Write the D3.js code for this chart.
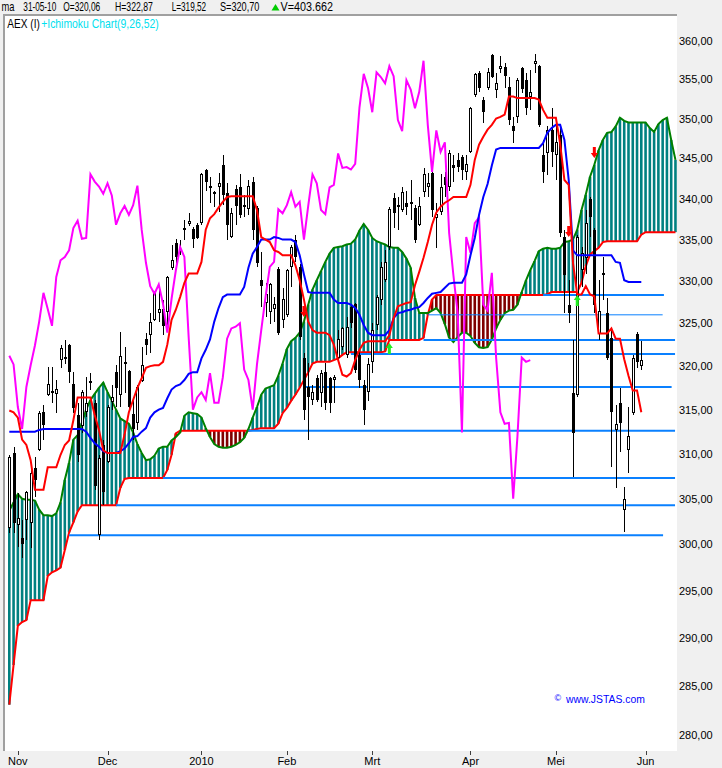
<!DOCTYPE html>
<html><head><meta charset="utf-8">
<script src="https://cdn.jsdelivr.net/npm/d3@7"></script>
<style>
html,body{margin:0;padding:0;background:#f0f0f0;}
svg{display:block;font-family:"Liberation Sans",Arial,sans-serif;}
</style></head><body>
<svg id="c" width="722" height="768"></svg>
<script>
// ---- price data (AEX daily, 29-10-2009 .. 31-05-2010) ----
const opens = [301.8,310.1,302.1,300.7,302.7,302.3,308.4,310.4,314.7,316.7,317.0,316.8,320.7,320.8,322.5,317.9,314.4,313.1,314.7,318.0,
315.8,301.0,311.0,309.1,315.9,319.3,316.7,320.5,319.4,314.5,313.5,318.3,323.2,323.6,325.4,326.2,326.7,326.3,331.6,334.6,
333.5,336.2,336.9,336.3,336.8,337.0,343.5,341.6,340.8,341.4,344.2,340.7,335.3,341.2,341.4,339.0,338.7,342.0,338.9,330.1,
327.4,326.3,326.7,331.5,325.4,326.0,331.7,335.0,331.7,320.9,317.6,316.1,318.6,316.9,319.3,318.6,318.4,320.9,322.2,321.3,
326.9,327.3,321.3,317.8,317.0,320.5,324.8,327.8,330.1,334.1,340.1,339.0,338.6,339.5,339.3,338.9,336.8,340.8,341.4,343.2,
337.6,338.4,342.7,341.4,344.2,344.8,345.2,343.3,345.8,353.0,355.8,352.4,353.9,358.1,353.6,356.3,356.6,354.0,349.0,350.2,
356.4,354.9,352.7,357.0,356.7,345.4,345.6,348.5,345.4,347.9,335.3,327.2,316.9,316.7,331.3,332.8,340.0,336.2,323.8,330.8,
326.2,323.3,312.7,315.8,303.8,310.4,314.6,323.8,320.06];
const highs = [309.9,310.8,305.6,302.7,305.9,308.4,309.7,314.8,315.5,319.9,319.9,318.4,322.5,323.1,322.6,319.3,315.8,317.3,318.7,319.2,
316.1,309.9,311.6,315.5,317.8,320.1,324.0,322.2,319.5,316.1,317.8,322.2,323.9,326.2,328.7,329.1,327.8,330.6,334.4,335.1,
335.0,337.4,338.2,336.5,337.0,343.2,343.7,342.7,340.9,343.2,345.4,341.9,338.9,341.7,343.1,340.4,342.3,342.7,339.1,333.5,
329.8,329.8,328.1,331.7,329.2,331.5,334.4,335.5,332.0,321.5,320.4,317.8,319.0,319.5,320.4,318.8,319.0,324.2,324.6,325.7,
327.2,327.4,321.9,318.4,321.0,325.0,328.4,332.3,333.7,339.0,340.7,340.2,341.4,341.0,342.3,339.2,340.2,343.8,343.2,343.3,
339.5,343.0,343.3,346.0,345.4,345.7,345.4,345.4,351.5,355.8,356.1,352.7,356.5,358.3,355.8,358.0,357.1,355.3,350.2,355.2,
356.6,355.8,356.2,358.3,356.9,347.3,349.0,351.3,349.4,348.9,336.2,330.1,323.0,335.5,334.1,338.6,340.2,336.4,330.1,332.9,
328.0,324.5,315.5,317.5,306.3,315.3,321.3,324.0,322.87];
const lows = [301.2,301.2,299.7,298.5,300.5,299.6,305.2,310.3,311.6,316.6,315.8,314.6,319.8,320.2,318.0,314.6,309.1,312.4,314.2,317.3,
306.0,300.5,304.3,309.0,315.0,315.3,315.3,316.9,315.0,311.6,312.7,318.2,321.3,321.5,325.3,325.1,323.6,324.0,331.3,331.7,
333.1,335.0,336.7,334.0,335.1,336.8,341.0,339.5,339.0,338.4,339.2,335.0,335.2,336.8,337.6,337.7,338.0,335.0,331.7,326.9,
325.7,324.9,325.1,323.6,324.5,325.7,329.3,332.3,323.0,313.8,311.6,315.5,315.9,315.3,315.0,314.6,315.8,320.4,321.9,320.9,
324.5,319.2,317.5,313.3,316.0,319.2,324.2,327.2,329.9,333.7,336.4,336.2,338.4,338.0,337.4,334.6,336.7,340.2,340.2,337.7,
334.0,338.0,340.2,341.0,342.0,343.3,342.3,342.3,345.7,352.7,353.4,349.4,353.6,355.2,352.6,355.8,353.9,349.2,346.9,349.4,
353.3,350.4,351.1,355.8,348.9,341.9,342.9,343.9,342.3,335.3,326.2,325.0,307.4,316.5,329.3,330.9,335.3,326.2,323.0,327.8,
320.7,308.5,306.2,310.2,301.4,307.9,314.4,319.8,319.52];
const closes = [309.7,302.3,302.9,300.0,305.7,307.9,307.1,314.6,313.3,317.9,317.1,317.4,322.1,321.1,319.3,315.2,309.9,317.0,315.8,318.3,
306.4,309.5,305.7,315.3,316.5,317.5,321.2,320.2,315.3,312.8,317.6,320.1,322.4,325.2,328.6,326.7,324.7,330.5,332.5,332.9,
333.7,336.4,337.3,335.1,335.2,343.0,342.1,341.5,340.6,341.9,340.4,336.8,338.2,339.1,338.0,339.2,341.6,336.2,332.2,329.4,
328.5,329.6,327.3,323.9,327.9,331.3,334.1,332.9,323.4,315.0,316.4,317.0,316.1,319.2,315.8,315.8,318.7,323.2,324.4,324.6,
325.0,319.6,318.4,315.0,320.2,324.2,328.1,331.7,332.3,338.7,338.2,339.2,340.8,339.0,339.6,335.0,339.1,343.0,341.9,338.6,
338.1,341.4,341.7,345.6,343.8,343.9,343.6,344.3,351.4,355.7,353.9,350.8,355.9,355.3,354.5,356.7,355.4,349.8,348.4,354.9,
353.7,351.3,353.4,357.4,349.2,343.3,348.5,345.8,347.0,335.8,330.7,326.2,312.4,335.3,333.4,337.0,337.7,327.2,326.5,331.0,
321.0,314.7,313.4,313.5,305.0,312.0,321.0,320.5,320.70];

// ---- Ichimoku lines ----
const tenkan = [314.9,314.7,314.1,311.6,311.0,309.3,306.0,306.0,306.0,308.5,
308.5,308.5,309.9,311.0,311.5,313.8,316.4,316.4,316.4,316.4,
314.4,312.7,310.4,310.1,310.1,310.1,310.1,312.2,314.7,316.1,
317.5,318.6,319.8,320.0,320.1,320.1,320.5,322.5,325.4,326.6,
328.1,329.8,330.9,330.9,330.9,332.3,336.2,337.6,338.1,338.9,
339.6,340.2,340.3,340.3,340.3,340.3,340.3,340.3,338.6,335.3,
335.0,334.7,333.7,333.5,333.1,333.1,333.1,331.9,330.1,327.8,
325.2,324.2,323.9,323.9,323.9,323.6,322.5,320.7,319.0,318.8,
319.2,320.7,321.9,322.7,322.9,322.9,322.9,322.9,322.9,323.6,
325.6,327.0,327.2,327.4,327.5,329.5,331.1,332.8,334.7,336.8,
338.3,339.0,339.5,339.8,340.2,340.2,340.2,340.2,341.7,344.8,
346.7,347.7,348.6,349.2,350.0,350.2,350.5,352.8,352.8,352.6,
352.6,352.6,352.6,352.6,352.4,351.1,350.1,350.1,350.1,346.8,
342.3,341.7,332.2,328.4,328.4,329.4,328.4,328.2,323.8,323.8,
323.8,324.4,323.2,323.2,320.8,318.9,317.2,317.2,314.7];
const kijun = [312.5,312.5,312.5,312.5,312.5,312.5,312.5,312.7,312.8,312.8,
312.8,312.8,312.8,312.8,312.8,312.8,312.8,312.8,312.5,311.8,
311.2,310.8,310.3,310.1,310.1,310.1,310.3,310.6,311.2,311.9,
312.0,312.5,312.9,314.1,314.7,315.0,315.2,316.3,317.3,317.7,
317.9,318.4,319.1,319.3,319.3,320.9,321.9,323.1,325.2,326.8,
328.1,328.4,328.4,328.4,328.4,329.3,331.6,333.3,334.1,335.0,
335.0,335.0,335.3,335.2,335.0,335.0,335.0,334.7,333.1,330.8,
328.7,328.6,328.6,328.6,328.6,328.6,327.8,327.4,327.4,327.4,
327.2,326.8,326.0,324.8,323.9,323.6,323.6,323.6,323.6,324.2,
325.6,326.2,326.3,326.5,326.6,326.8,326.9,327.4,328.0,328.5,
328.6,328.7,329.2,329.7,329.8,329.8,329.8,330.8,333.1,335.2,
338.0,340.2,341.8,344.1,346.1,346.3,346.3,346.3,346.3,346.3,
346.3,346.3,346.3,346.3,346.3,346.9,348.2,348.8,349.2,349.2,
347.3,342.3,333.7,333.1,333.1,333.1,333.1,333.1,333.1,333.1,
333.1,333.1,332.3,332.2,330.1,329.9,329.9,329.9,329.9];
const senkouA = [303.7,304.6,305.5,305.0,304.9,304.9,304.8,303.8,303.2,303.2,
303.1,303.4,304.6,307.1,309.0,311.6,312.1,313.5,315.0,316.1,
316.8,317.5,318.1,317.0,316.0,315.0,314.0,313.7,313.4,312.4,
311.1,310.1,309.3,309.4,309.8,310.6,310.8,310.8,311.5,311.9,
312.4,314.3,314.7,314.6,314.5,314.1,312.9,311.9,311.1,310.8,
310.7,310.7,310.8,311.0,311.3,311.8,312.8,314.1,315.3,316.7,
317.4,317.6,317.8,318.9,320.3,322.0,322.9,323.3,323.9,325.2,
327.2,329.0,330.1,331.2,332.3,333.3,334.0,334.1,334.2,334.4,
334.5,335.0,336.1,336.9,336.2,335.2,334.8,334.6,334.4,334.1,
334.0,334.0,333.5,332.7,331.6,328.0,326.2,326.2,326.2,326.5,
326.8,326.2,324.9,323.3,322.8,323.4,323.9,323.9,323.5,322.7,
322.2,322.1,322.2,323.1,324.4,325.4,326.2,326.5,326.6,327.2,
328.7,330.1,331.3,332.4,333.6,333.9,334.0,333.9,333.9,334.0,
334.7,334.8,335.0,336.2,338.6,340.5,342.7,344.2,346.0,347.3,
348.2,348.3,349.0,350.1,349.7,349.5,349.5,349.5,349.5,349.5,
348.8,348.3,349.3,349.8,350.1,347.3,344.8];
const senkouB = [283.1,287.2,291.3,291.7,291.9,294.0,294.0,294.0,294.0,296.6,
297.0,297.2,297.5,299.4,301.3,302.4,303.6,304.3,304.3,304.3,
304.3,304.3,304.3,304.3,304.3,304.3,306.2,307.2,307.3,307.3,
307.3,307.3,307.3,307.3,307.3,307.3,307.3,308.2,309.9,312.3,
312.6,312.6,312.6,312.6,312.6,312.6,312.6,312.6,312.6,312.6,
312.6,312.6,312.6,312.6,312.6,312.6,312.6,312.7,312.8,312.9,
312.9,312.9,312.9,313.4,314.6,315.2,316.0,316.7,317.5,318.4,
319.3,320.3,320.5,320.5,320.5,320.5,320.7,320.9,321.3,321.6,
321.6,321.6,321.6,321.6,321.6,321.6,321.6,321.6,321.7,323.05,
323.05,323.05,323.05,323.05,323.05,323.05,323.05,323.3,326.0,327.8,
328.35,328.35,328.35,328.35,328.35,328.35,328.35,328.35,328.35,328.35,
328.35,328.35,328.35,328.35,328.35,328.35,328.35,328.35,328.35,328.35,
328.35,328.35,328.35,328.35,328.35,328.35,328.45,328.7,328.7,328.7,
328.7,328.7,328.7,328.7,329.8,331.8,333.2,333.6,334.0,334.7,
334.8,334.8,334.8,334.8,334.8,334.8,334.8,334.8,335.6,335.9,
335.9,335.9,335.9,335.9,335.9,335.9,335.9];
const chikouShift = 26; // lagging span = close plotted 26 bars back

// support / resistance levels (value, first bar, last bar)
const levelValues = [328.35,326.0,323.05,321.4,317.6,312.6,307.3,304.3,301.0];
const levelStart  = [125,98,97,80,69,56,36,25,14];
const levelEnd    = [153.3,153,155.9,155.9,155.1,155.9,155.9,155.9,153.1];
const levelThin   = [false,true,false,false,false,false,false,false,false];

// crossover signals
const sigIdx   = [69,89,131,133,137];
const sigPrice = [325.75,322.7,335.3,328.35,345.05];
const sigDir   = ["down","up","down","up","down"];

// axes
const yTicks = [280,285,290,295,300,305,310,315,320,325,330,335,340,345,350,355,360];
const monthLabels = ["Nov","Dec","2010","Feb","Mrt","Apr","Mei","Jun"];
const monthIdx = [2,23,45,65,85,108,128,149];

// header texts
const hdrTexts = ["ma","31-05-10","O=320,06","H=322,87","L=319,52","S=320,70","V=403.662"];

// ---- drawing ----
const svg = d3.select("#c");
svg.append("rect").attr("width",722).attr("height",768).attr("fill","#f0f0f0");
svg.append("rect").attr("x",5).attr("y",16).attr("width",672).attr("height",735).attr("fill","#ffffff");
svg.append("rect").attr("x",3).attr("y",14).attr("width",674).attr("height",2).attr("fill","#a0a0a0");
svg.append("rect").attr("x",3).attr("y",14).attr("width",2).attr("height",737).attr("fill","#a0a0a0");

svg.append("defs").append("clipPath").attr("id","clip")
  .append("rect").attr("x",5).attr("y",16).attr("width",672).attr("height",735);

const x = d3.scaleLinear().domain([0,148]).range([9.3,641.3]);
const y = d3.scaleLog().domain([280,360]).range([735.1,40.7]);

const g = svg.append("g").attr("clip-path","url(#clip)");

// cloud stripes
g.append("g").selectAll("line").data(d3.range(senkouA.length)).join("line")
  .attr("x1",i=>x(i)).attr("x2",i=>x(i))
  .attr("y1",i=>y(senkouA[i])).attr("y2",i=>y(senkouB[i]))
  .attr("stroke",i=>senkouA[i]>=senkouB[i]?"#008080":"#800000")
  .attr("stroke-width",2.6);

const line = d3.line().x((d,i)=>x(i)).y(d=>y(d));
g.append("path").attr("d",line(senkouB)).attr("fill","none").attr("stroke","#ff0000").attr("stroke-width",2);
g.append("path").attr("d",line(senkouA)).attr("fill","none").attr("stroke","#008000").attr("stroke-width",2);

// levels
g.append("g").selectAll("line").data(levelValues).join("line")
  .attr("x1",(d,k)=>x(levelStart[k])).attr("x2",(d,k)=>x(levelEnd[k]))
  .attr("y1",d=>y(d)).attr("y2",d=>y(d))
  .attr("stroke","#0a80ff").attr("stroke-width",(d,k)=>levelThin[k]?1:2);

// candles
const cg = g.append("g").attr("shape-rendering","crispEdges");
closes.forEach((c,i)=>{
  const o = opens[i], R = Math.round(x(i));
  const yh = Math.round(y(highs[i])), yl = Math.round(y(lows[i]));
  cg.append("rect").attr("x",R).attr("y",yh).attr("width",1).attr("height",Math.max(1,yl-yh)).attr("fill","#000");
  const t = Math.round(y(Math.max(o,c))), b = Math.round(y(Math.min(o,c)));
  const h = Math.max(2,b-t);
  cg.append("rect").attr("x",R-1).attr("y",t).attr("width",3).attr("height",h).attr("fill","#000");
  if (c >= o && h > 2) {
    cg.append("rect").attr("x",R).attr("y",t+1).attr("width",1).attr("height",h-2).attr("fill","#fff");
  }
});

// chikou, kijun, tenkan
const chikou = closes.slice(chikouShift);
g.append("path").attr("d",line(chikou)).attr("fill","none").attr("stroke","#ff00ff").attr("stroke-width",2);
g.append("path").attr("d",line(kijun)).attr("fill","none").attr("stroke","#0000ff").attr("stroke-width",2);
g.append("path").attr("d",line(tenkan)).attr("fill","none").attr("stroke","#ff0000").attr("stroke-width",2);

// signal arrows
sigIdx.forEach((i,k)=>{
  const cx = x(i), ty = y(sigPrice[k]);
  let p;
  if (sigDir[k]==="up") {
    p = `M${cx},${ty} L${cx+3.5},${ty+5} L${cx+1.5},${ty+5} L${cx+1.5},${ty+11} L${cx-1.5},${ty+11} L${cx-1.5},${ty+5} L${cx-3.5},${ty+5} Z`;
    g.append("path").attr("d",p).attr("fill","#22ee22");
  } else {
    p = `M${cx},${ty} L${cx+3.5},${ty-5} L${cx+1.5},${ty-5} L${cx+1.5},${ty-11} L${cx-1.5},${ty-11} L${cx-1.5},${ty-5} L${cx-3.5},${ty-5} Z`;
    g.append("path").attr("d",p).attr("fill","#ff0000");
  }
});

// y axis labels
const fmt = d3.format(".2f");
svg.append("g").selectAll("text").data(yTicks).join("text")
  .attr("x",679).attr("y",d=>y(d)+4)
  .attr("font-size",11).attr("fill","#000")
  .text(d=>fmt(d).replace(".",","));

// x axis
const xa = svg.append("g");
xa.selectAll("line").data(monthIdx).join("line")
  .attr("x1",d=>Math.round(x(d))+0.5).attr("x2",d=>Math.round(x(d))+0.5)
  .attr("y1",751).attr("y2",755).attr("stroke","#404040").attr("stroke-width",1);
xa.selectAll("text").data(monthLabels).join("text")
  .attr("x",(d,k)=>x(monthIdx[k])).attr("y",765)
  .attr("text-anchor","middle").attr("font-size",11).attr("fill","#000")
  .text(d=>d);

// text squeezed horizontally to the narrow UI font of the original
function fitText(str, px, py, w, size, fill) {
  const t = svg.append("text").attr("font-size",size).attr("fill",fill).text(str);
  const nat = t.node().getComputedTextLength();
  t.attr("transform",`translate(${px},${py}) scale(${(w/nat).toFixed(4)},1)`);
  return t;
}
const hdrX = [1.5,23.3,63.3,115,171.7,220,280.5];
const hdrW = [13,33,37,38,34.5,39.5,52.5];
hdrTexts.forEach((s,k)=>fitText(s,hdrX[k],11,hdrW[k],12,"#000"));
svg.append("path").attr("d","M271.5,10.5 L279.5,10.5 L275.5,4 Z").attr("fill","#00cc00");

fitText("AEX (I)",7.3,27.5,32.5,12,"#000");
fitText("+Ichimoku Chart(9,26,52)",41.2,27.5,117.5,12,"#00e0ee");

svg.append("text").attr("x",554.5).attr("y",701).attr("font-size",9).attr("fill","#0000ff").text("\u00a9");
fitText("www.JSTAS.com",566,702.5,79,11,"#0000ff");
</script>
</body></html>
